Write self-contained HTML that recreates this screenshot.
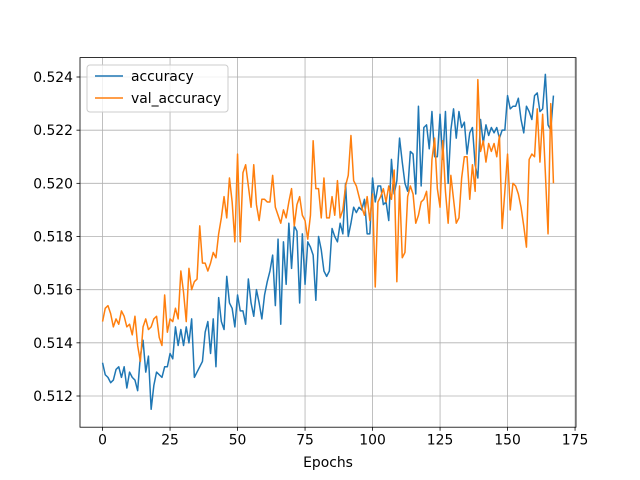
<!DOCTYPE html>
<html><head><meta charset="utf-8"><style>
html,body{margin:0;padding:0;background:#fff}
svg{display:block;font-family:"DejaVu Sans","Liberation Sans",sans-serif}
</style></head><body>
<svg id="chart" width="640" height="480" viewBox="0 0 640 480">
<rect x="0" y="0" width="640" height="480" fill="#fff"/>
<g id="grid"></g>
<g id="series"></g>
<rect x="80" y="57.6" width="496" height="369.6" fill="none" stroke="#000" stroke-width="0.8"/>
<g id="ticks"></g>
<text x="328" y="467" font-size="13.9" text-anchor="middle">Epochs</text>
<g>
<rect x="87" y="65" width="141" height="47" rx="3" fill="#fff" fill-opacity="0.8" stroke="#ccc" stroke-width="1"/>
<line x1="95" y1="76" x2="123" y2="76" stroke="#1f77b4" stroke-width="1.5"/>
<text x="131" y="81" font-size="13.9">accuracy</text>
<line x1="95" y1="98" x2="123" y2="98" stroke="#ff7f0e" stroke-width="1.5"/>
<text x="131" y="103" font-size="13.9">val_accuracy</text>
</g>
</svg>
<script>
const accuracy = [0.51325,0.5128,0.5127,0.5125,0.5126,0.5130,0.5131,0.5127,0.5131,0.5123,
0.5129,0.5127,0.5126,0.5122,0.5135,0.5141,0.5129,0.5135,0.5115,0.5124,
0.5129,0.5128,0.5127,0.5131,0.5131,0.5136,0.5134,0.5146,0.5139,0.5145,
0.5139,0.5146,0.5140,0.5149,0.5127,0.5129,0.5131,0.5133,0.5144,0.5148,
0.5136,0.5149,0.5131,0.5157,0.5148,0.5145,0.5165,0.5155,0.5153,0.5146,
0.5158,0.5152,0.5152,0.5147,0.5164,0.5155,0.5150,0.5160,0.5155,0.5149,
0.5158,0.5163,0.5167,0.5173,0.5154,0.5179,0.5147,0.5178,0.5162,0.5185,
0.5168,0.5184,0.5182,0.5155,0.5181,0.5162,0.5178,0.5176,0.5173,0.5156,
0.5180,0.5175,0.5167,0.5165,0.5167,0.5183,0.5180,0.5178,0.5185,0.5181,
0.5200,0.5180,0.5185,0.5191,0.5189,0.5191,0.5190,0.5194,0.5181,0.5181,
0.5202,0.5193,0.5199,0.5199,0.5192,0.5193,0.5186,0.5209,0.5196,0.5201,
0.5217,0.5208,0.5200,0.5197,0.5212,0.5211,0.5196,0.5229,0.5199,0.5221,
0.5222,0.5213,0.5227,0.5210,0.5210,0.5226,0.5209,0.5227,0.5200,0.5220,
0.5228,0.5217,0.5227,0.5221,0.5223,0.5211,0.5219,0.5221,0.5207,0.5202,
0.5224,0.5215,0.5222,0.5218,0.5221,0.5219,0.5221,0.5217,0.5220,0.5220,
0.5233,0.5228,0.5229,0.5229,0.5232,0.5224,0.5219,0.5229,0.5227,0.5224,
0.5233,0.5234,0.5227,0.5228,0.5241,0.5222,0.5220,0.5233];
const valAccuracy = [0.5148,0.5153,0.5154,0.5151,0.5146,0.5149,0.5147,0.5152,0.5150,0.5146,
0.5147,0.5143,0.5150,0.5139,0.5133,0.5146,0.5149,0.5145,0.5146,0.5149,
0.5150,0.5142,0.5139,0.5158,0.5144,0.5149,0.5148,0.5153,0.5149,0.5167,
0.5159,0.5148,0.5168,0.5160,0.5163,0.5164,0.5184,0.5170,0.5170,0.5167,
0.5170,0.5174,0.5172,0.5181,0.5187,0.5195,0.5187,0.5202,0.5193,0.5178,
0.5211,0.5178,0.5204,0.5207,0.5199,0.5191,0.5207,0.5192,0.5186,0.5194,
0.5194,0.5193,0.5193,0.5203,0.5191,0.5188,0.5185,0.5190,0.5187,0.5193,
0.5198,0.5184,0.5192,0.5195,0.5188,0.5186,0.5179,0.5188,0.5216,0.5198,
0.5198,0.5187,0.5202,0.5187,0.5187,0.5195,0.5188,0.5201,0.5187,0.5190,
0.5199,0.5203,0.5218,0.5201,0.5199,0.5195,0.5191,0.5188,0.5195,0.5186,
0.5196,0.5161,0.5193,0.5195,0.5198,0.5193,0.5199,0.5194,0.5205,0.5163,
0.5199,0.5172,0.5174,0.5195,0.5199,0.5196,0.5185,0.5188,0.5193,0.5194,
0.5197,0.5185,0.5209,0.5217,0.5198,0.5191,0.5216,0.5197,0.5185,0.5203,
0.5194,0.5185,0.5187,0.5202,0.5210,0.5210,0.5194,0.5207,0.5197,0.5239,
0.5212,0.5216,0.5208,0.5215,0.5212,0.5215,0.5210,0.5218,0.5183,0.5197,
0.5211,0.5190,0.5200,0.5199,0.5196,0.5191,0.5184,0.5176,0.5209,0.5211,
0.5210,0.5228,0.5208,0.5226,0.5204,0.5181,0.5230,0.5200];
const xTicks = [0,25,50,75,100,125,150,175];
const yTicks = [0.512,0.514,0.516,0.518,0.520,0.522,0.524];
const yTickLabels = ["0.512","0.514","0.516","0.518","0.520","0.522","0.524"];

const NS = "http://www.w3.org/2000/svg";
const L = 80, R = 576, T = 57.6, B = 427.2;
const xMin = -8.35, xMax = 175.35;
function xs(v){ return L + (v - xMin) / (xMax - xMin) * (R - L); }
function ys(v){ return 396 - (v - 0.512) * 26583; }

const grid = document.getElementById('grid');
const ticks = document.getElementById('ticks');
function mk(tag, attrs, parent){ const e = document.createElementNS(NS, tag); for (const k in attrs) e.setAttribute(k, attrs[k]); parent.appendChild(e); return e; }

xTicks.forEach(t => {
  const x = xs(t);
  const g = mk('line', {x1:x, x2:x, y1:T, y2:B, stroke:'#b0b0b0', 'stroke-width':0.8}, grid);
  
  
  const tk = mk('line', {x1:x, x2:x, y1:B, y2:B+3.5, stroke:'#000', 'stroke-width':0.8}, ticks);
  
  
  const lb = mk('text', {x:x, y:B+17.5, 'font-size':13.9, 'text-anchor':'middle'}, ticks);
  lb.textContent = String(t);
  
  
});
yTicks.forEach((t, i) => {
  const y = ys(t);
  const g = mk('line', {x1:L, x2:R, y1:y, y2:y, stroke:'#b0b0b0', 'stroke-width':0.8}, grid);
  
  
  const tk = mk('line', {x1:L-3.5, x2:L, y1:y, y2:y, stroke:'#000', 'stroke-width':0.8}, ticks);
  
  
  const lb = mk('text', {x:L-7, y:y+5, 'font-size':13.9, 'text-anchor':'end'}, ticks);
  lb.textContent = yTickLabels[i];
  
  
});

const series = document.getElementById('series');
function drawLine(arr, color, name){
  const pts = arr.map((v, i) => xs(i).toFixed(2) + ',' + ys(v).toFixed(2)).join(' ');
  const p = mk('polyline', {points:pts, fill:'none', stroke:color, 'stroke-width':1.5, 'stroke-linejoin':'round'}, series);
  
  
}
drawLine(accuracy, '#1f77b4', 'accuracy-line');
drawLine(valAccuracy, '#ff7f0e', 'val-accuracy-line');
</script>
</body></html>
